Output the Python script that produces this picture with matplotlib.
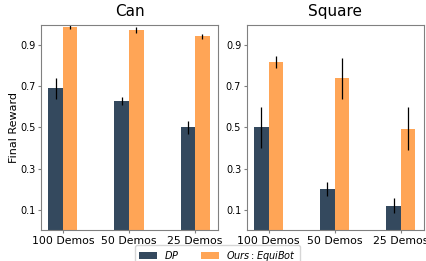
import numpy as np
import matplotlib
matplotlib.use('Agg')
import matplotlib.pyplot as plt

tasks = ['Can', 'Square']
demos = ['100 Demos', '50 Demos', '25 Demos']

dp_mean = {'Can': [0.69, 0.63, 0.50], 'Square': [0.50, 0.20, 0.12]}
dp_err = {'Can': [0.05, 0.02, 0.03], 'Square': [0.10, 0.035, 0.035]}
ours_mean = {'Can': [0.99, 0.975, 0.945], 'Square': [0.82, 0.74, 0.495]}
ours_err = {'Can': [0.012, 0.015, 0.012], 'Square': [0.03, 0.10, 0.105]}

c_dp = '#34495e'
c_ours = '#ffa556'

fig, axes = plt.subplots(1, 2, figsize=(4.27, 2.61), dpi=100)
x = np.arange(len(demos))
w = 0.22

for ax, t in zip(axes, tasks):
    ax.bar(x - w / 2, dp_mean[t], w, yerr=dp_err[t], color=c_dp,
           ecolor='black', error_kw=dict(elinewidth=0.9), label='$DP$')
    ax.bar(x + w / 2, ours_mean[t], w, yerr=ours_err[t], color=c_ours,
           ecolor='black', error_kw=dict(elinewidth=0.9), label='$Ours: EquiBot$')
    ax.set_title(t, fontsize=11)
    ax.set_xticks(x)
    ax.set_xticklabels(demos, fontsize=7.8)
    ax.set_yticks([0.1, 0.3, 0.5, 0.7, 0.9])
    ax.tick_params(axis='y', labelsize=7)
    ax.tick_params(length=2, color='gray', pad=2)
    ax.set_ylim(0, 1.0)
    ax.set_xlim(-0.33, 2.35)
    for s in ax.spines.values():
        s.set_color('gray')

axes[0].set_ylabel('Final Reward', fontsize=8, labelpad=1)
h, l = axes[0].get_legend_handles_labels()
fig.legend(h, l, loc='upper center', ncol=2, fontsize=7, bbox_to_anchor=(0.51, 0.062),
           handlelength=1.8, columnspacing=2.2, handletextpad=0.8, borderaxespad=0)

fig.subplots_adjust(left=0.096, right=0.993, top=0.905, bottom=0.118, wspace=0.16)
fig.savefig('out.png', dpi=100)
